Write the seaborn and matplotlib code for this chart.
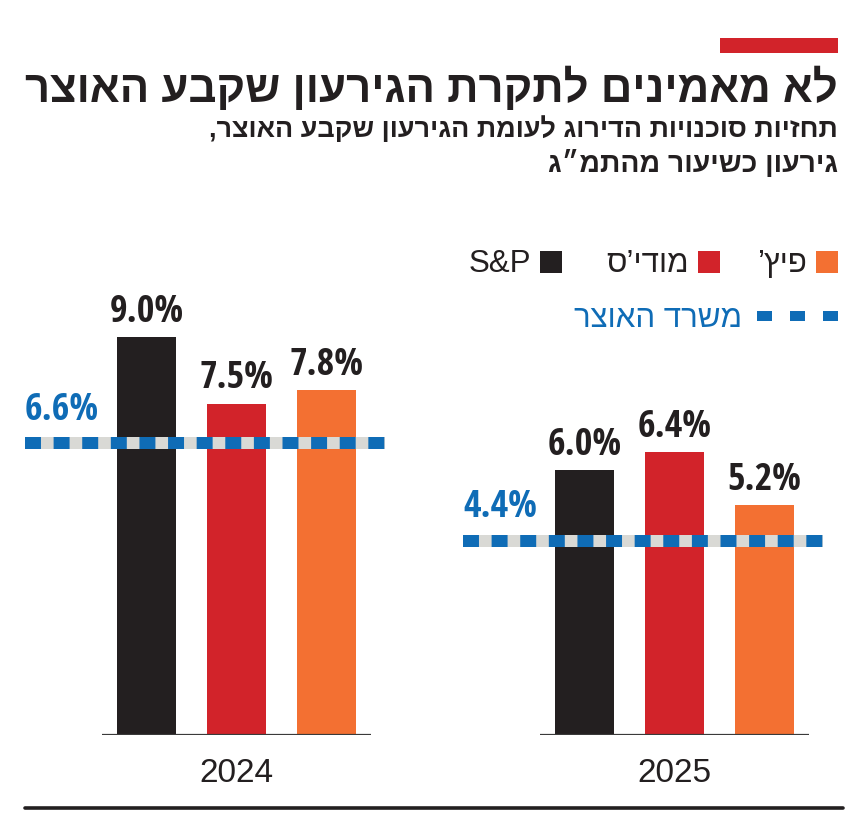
import matplotlib
matplotlib.use('Agg')
import matplotlib.pyplot as plt
import matplotlib.transforms as mtrans
import seaborn as sns
import pandas as pd
from matplotlib import font_manager as fm
from matplotlib.ft2font import FT2Font
from matplotlib.patches import Rectangle
from matplotlib.lines import Line2D

# ---------------- data ----------------
years = ['2024', '2025']
agencies = ['S&P', 'מודי’ס', 'פיץ’']
sp_values = [9.0, 6.0]
moodys_values = [7.5, 6.4]
fitch_values = [7.8, 5.2]
treasury_values = [6.6, 4.4]
treasury_label = 'משרד האוצר'
title_text = 'לא מאמינים לתקרת הגירעון שקבע האוצר'
subtitle_lines = ['תחזיות סוכנויות הדירוג לעומת הגירעון שקבע האוצר,',
                  'גירעון כשיעור מהתמ״ג']

# ---------------- style ----------------
agency_colors = ['#231f20', '#d2232a', '#f37032']
BLUE = '#0f6cb6'
GRAY = '#d9d9d5'
DARK = '#231f20'
W, H, DPI = 862, 821, 100

sns.set_theme(style='white')
plt.rcParams['lines.scale_dashes'] = False

OK_FAMILIES = ('DejaVu Sans', 'Liberation Sans', 'Noto Sans', 'Open Sans', 'Roboto', 'Lato', 'Inter')


def vis(s):
    """Visual (left-to-right) order for Hebrew text."""
    return s[::-1]


def weight_num(w):
    if isinstance(w, (int, float)):
        return w
    return fm.weight_dict.get(str(w).lower(), 400)


def text_metrics(path, text, probe):
    f = FT2Font(path)
    cmap = f.get_charmap()
    if not all(ord(c) in cmap for c in text if not c.isspace()):
        return None
    f.set_size(100, 72)
    h = f.load_char(ord(probe)).height / 64.0
    adv = sum(f.load_char(ord(c)).linearHoriAdvance / 65536.0 for c in text)
    return h, adv


def best_bold(text, probe, target_h, target_w):
    """Bold font whose proportions best match the reference text block.
    Returns (path, size_pt)."""
    best, best_err, best_size = None, 1e9, 20
    seen = set()
    for fe in fm.fontManager.ttflist:
        if fe.fname in seen:
            continue
        seen.add(fe.fname)
        name = fe.name
        if not name.startswith(OK_FAMILIES) or any(k in name for k in ('Mono', 'CJK', 'Serif', 'Display')):
            continue
        if weight_num(fe.weight) < 600 or str(fe.style) != 'normal':
            continue
        try:
            m = text_metrics(fe.fname, text, probe)
        except Exception:
            continue
        if m is None or m[0] <= 0:
            continue
        h, adv = m
        pred_w = adv * target_h / h
        err = abs(pred_w - target_w) / target_w
        if err < best_err:
            best, best_err = fe.fname, err
            best_size = (100.0 * target_h / h) * 72.0 / DPI
    if best is None:
        best = fm.findfont(fm.FontProperties(family='DejaVu Sans', weight='bold'))
    return best, best_size


def pick_font(cands, text):
    for fam, weight in cands:
        try:
            path = fm.findfont(fm.FontProperties(family=fam, weight=weight),
                               fallback_to_default=False)
            cmap = FT2Font(path).get_charmap()
        except Exception:
            continue
        if all(ord(c) in cmap for c in text if not c.isspace()):
            return path
    return fm.findfont(fm.FontProperties(family='DejaVu Sans'))


heb_all = title_text + ''.join(subtitle_lines) + ''.join(agencies) + treasury_label
f_title, title_size = best_bold(title_text + ''.join(subtitle_lines), 'מ', 27, 813)
f_num, num_size = best_bold('9.0%', '0', 28.5, 74)
f_reg = pick_font([('Liberation Sans', 'normal'), ('Open Sans', 'normal'),
                   ('DejaVu Sans', 'normal')], heb_all)
f_year = f_reg


def fp(path, size):
    return fm.FontProperties(fname=path, size=size)


def px(x, y):
    """pixel (from top-left) -> figure fraction"""
    return x / W, 1 - y / H


fig = plt.figure(figsize=(W / DPI, H / DPI), dpi=DPI)
fig.patch.set_facecolor('white')
renderer = fig.canvas.get_renderer()

# ---------------- bars ----------------
rows = []
for i, yr in enumerate(years):
    for a, vals in zip(agencies, [sp_values, moodys_values, fitch_values]):
        rows.append({'year': yr, 'agency': a, 'value': vals[i]})
df = pd.DataFrame(rows)

PX_PER_CAT = 438.0
PX_PER_UNIT = 44.2
base_px = 735
ax_top_px = 200
ax = fig.add_axes([0, (H - base_px) / H, 1, (base_px - ax_top_px) / H])
sns.barplot(data=df, x='year', y='value', hue='agency', order=years, hue_order=agencies,
            palette=agency_colors, width=0.616, gap=0.344, saturation=1, errorbar=None,
            legend=False, ax=ax, zorder=2, linewidth=0)
ax.set_xlim(-236.5 / PX_PER_CAT, 1 + (W - 674.5) / PX_PER_CAT)
ax.set_ylim(0, (base_px - ax_top_px) / PX_PER_UNIT)
ax.axis('off')

# baseline under each group
for i in range(len(years)):
    ax.hlines(0, i - 0.308, i + 0.308, color='#3a3a3a', lw=1.6, zorder=3)

# value labels
for cont, vals in zip(ax.containers, [sp_values, moodys_values, fitch_values]):
    for bar, v in zip(cont, vals):
        ax.annotate(f'{v:.1f}%', (bar.get_x() + bar.get_width() / 2, bar.get_height()),
                    xytext=(0, 11.0), textcoords='offset points', ha='center', va='baseline',
                    color=DARK, fontproperties=fp(f_num, num_size), zorder=6)

# treasury reference lines
LW = 12 * 72 / DPI
for i, v in enumerate(treasury_values):
    x0, x1 = i - 0.483, i + 0.339
    ax.plot([x0, x1], [v, v], color=GRAY, lw=LW, solid_capstyle='butt', zorder=4)
    ax.plot([x0, x1], [v, v], color=BLUE, lw=LW, linestyle=(0, (11.5, 9.1)),
            dash_capstyle='butt', zorder=5)
    ax.annotate(f'{v:.1f}%', (x0, v), xytext=(0, 17.0), textcoords='offset points',
                ha='left', va='baseline', color=BLUE, fontproperties=fp(f_num, num_size), zorder=6)

# year labels
btrans = mtrans.blended_transform_factory(ax.transData, fig.transFigure)
for i, yr in enumerate(years):
    ax.text(i, 1 - 782 / H, yr, transform=btrans, ha='center', va='baseline',
            color=DARK, fontproperties=fp(f_year, 24))

# ---------------- header ----------------
fig.patches.append(Rectangle(px(720, 53), 118 / W, 15 / H, transform=fig.transFigure,
                             color='#d2232a', lw=0))


def fit_width(t, target, cap):
    w = t.get_window_extent(renderer).width
    t.set_fontsize(min(t.get_fontsize() * target / w, cap))


sub_size = title_size * 16.0 / 27.0
t = fig.text(*px(838, 102), vis(title_text), ha='right', va='baseline', color=DARK,
             fontproperties=fp(f_title, title_size))
fit_width(t, 813, title_size * 1.1)
t = fig.text(*px(838, 137), vis(subtitle_lines[0]), ha='right', va='baseline', color=DARK,
             fontproperties=fp(f_title, sub_size))
fit_width(t, 631, sub_size * 1.15)
t = fig.text(*px(838, 172), vis(subtitle_lines[1]), ha='right', va='baseline', color=DARK,
             fontproperties=fp(f_title, sub_size))
fit_width(t, 292, sub_size * 1.15)

# ---------------- legend ----------------
sq_right = [562, 720, 838]          # S&P, Moody's, Fitch (right to left reading)
for a, c, r in zip(agencies, agency_colors, sq_right):
    fig.patches.append(Rectangle(px(r - 22, 273), 22 / W, 22 / H, transform=fig.transFigure,
                                 color=c, lw=0))
    label = a if a.isascii() else vis(a)
    fig.text(*px(r - 31, 272), label, ha='right', va='baseline', color=DARK,
             fontproperties=fp(f_reg, 22.5))

for r in [838, 805, 772]:
    fig.patches.append(Rectangle(px(r - 15, 321), 15 / W, 10 / H, transform=fig.transFigure,
                                 color=BLUE, lw=0))
fig.text(*px(742, 327), vis(treasury_label), ha='right', va='baseline', color=BLUE,
         fontproperties=fp(f_reg, 22.5))

# bottom rule
fig.lines.append(Line2D([25 / W, 843 / W], [1 - 808 / H] * 2, transform=fig.transFigure,
                        color=DARK, lw=2.6))

fig.savefig('out.png', dpi=DPI, facecolor='white')
